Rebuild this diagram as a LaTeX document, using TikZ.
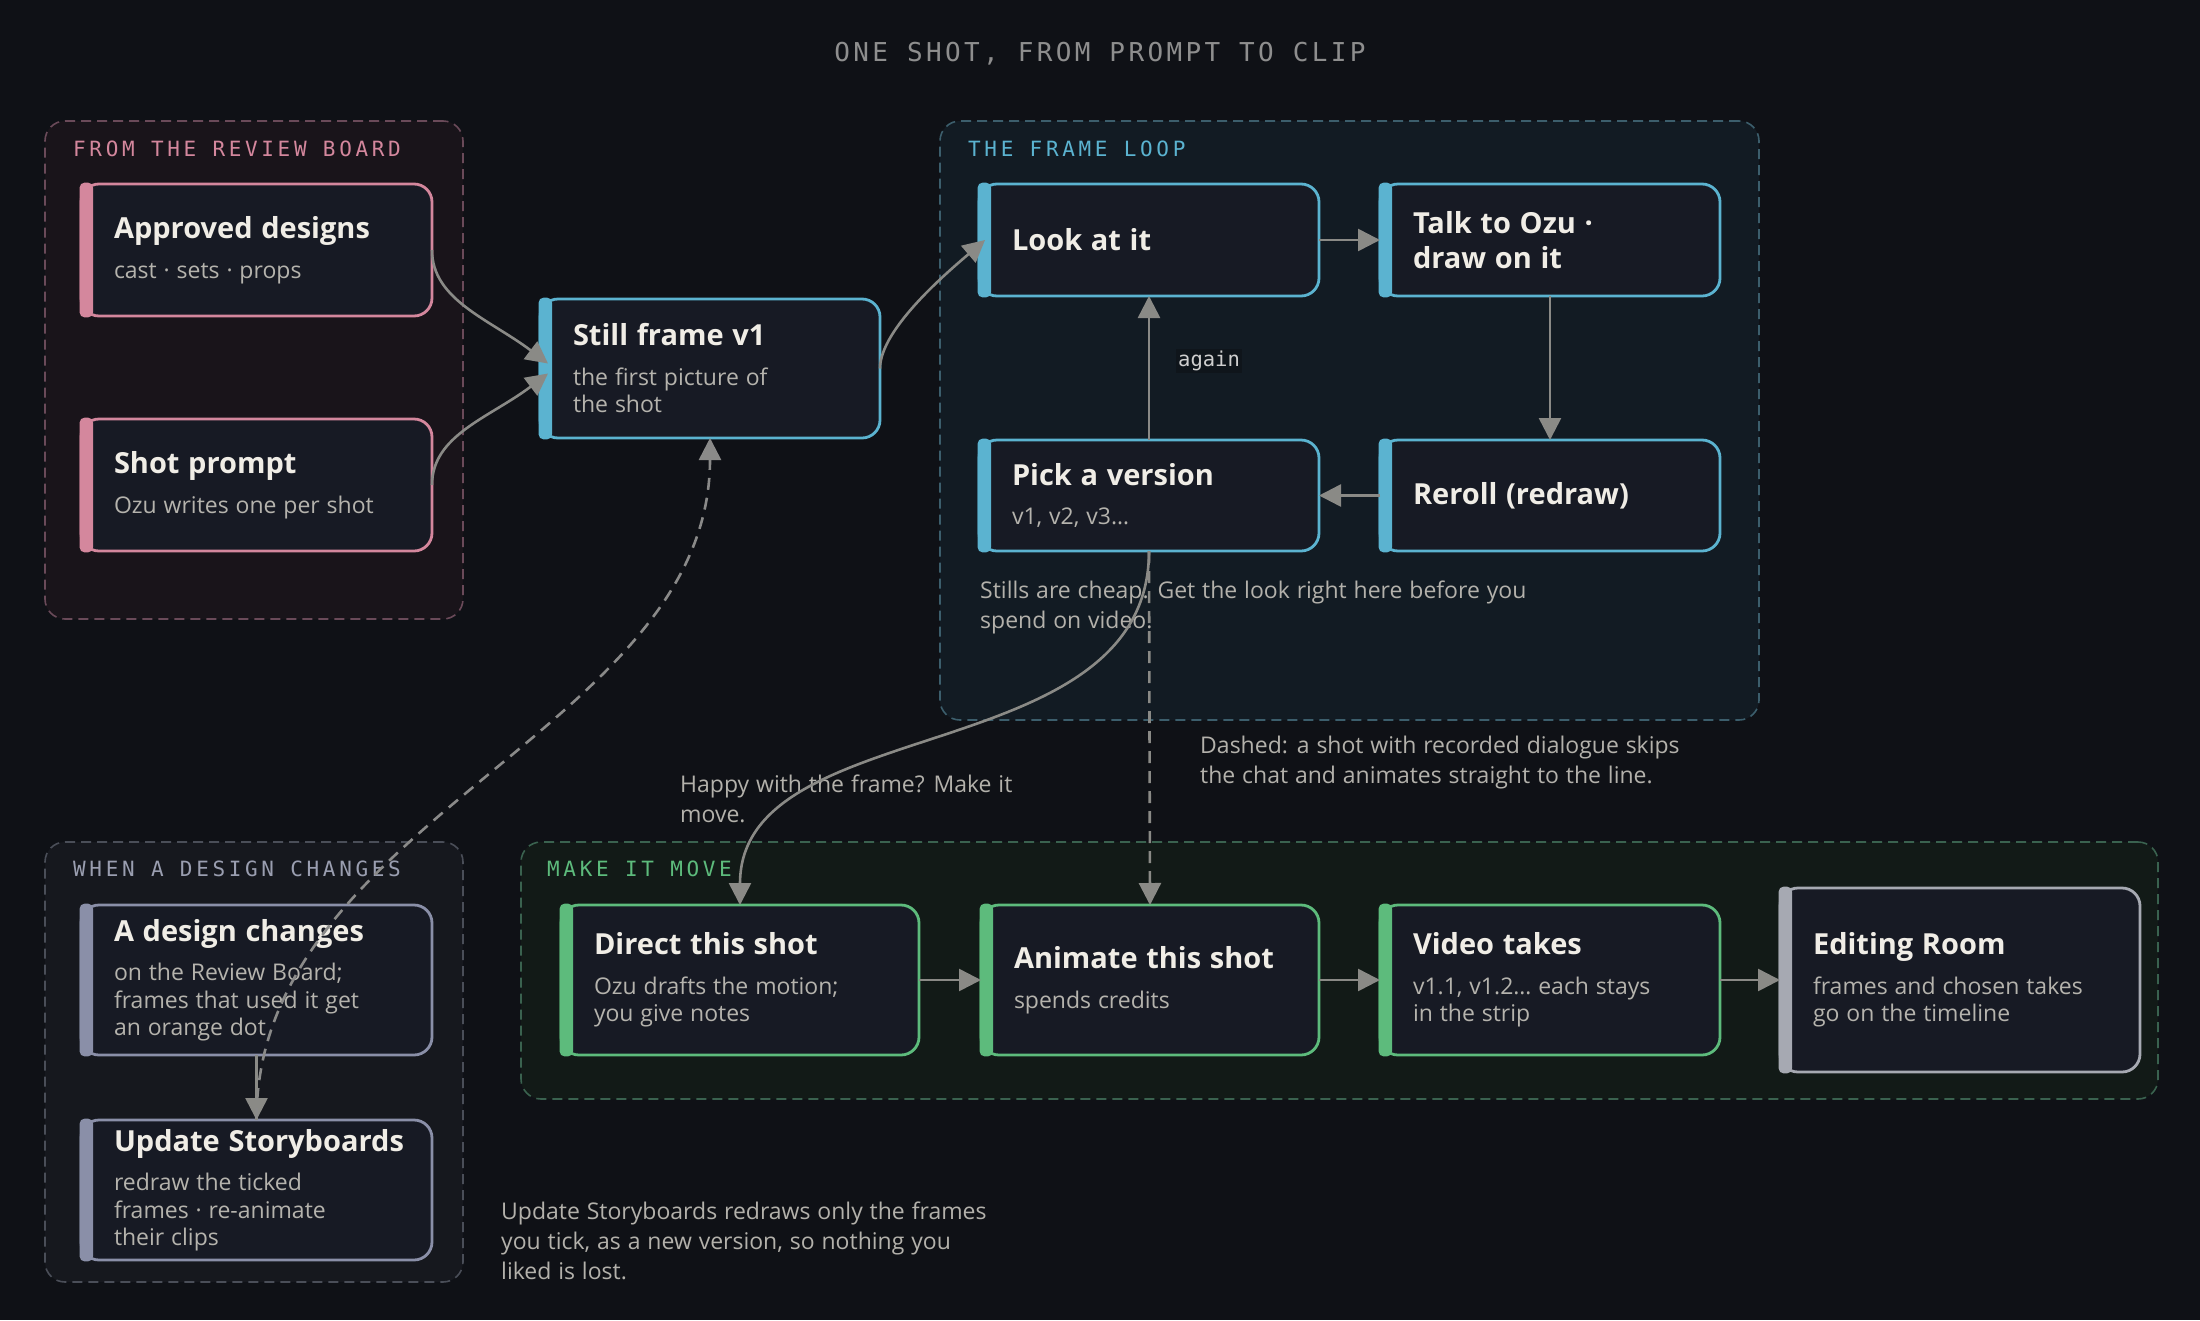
\documentclass[tikz,border=0pt]{standalone}
\usepackage{fontspec}
\setmainfont{Open Sans}[WordSpace=1.15]
\newfontfamily\monoplain{DejaVu Sans Mono}
\newfontfamily\monotitle[LetterSpace=12.9]{DejaVu Sans Mono}
\newfontfamily\monolabel[LetterSpace=17.4]{DejaVu Sans Mono}
\usetikzlibrary{arrows.meta,calc}

\definecolor{bg}{HTML}{0F1116}
\definecolor{cardfill}{HTML}{171A24}
\definecolor{titlec}{HTML}{F0EDE6}
\definecolor{subc}{HTML}{B5B3AD}
\definecolor{notec}{HTML}{B3B1AB}
\definecolor{arrowc}{HTML}{8A8A86}
\definecolor{pinkc}{HTML}{D4879D}
\definecolor{bluec}{HTML}{5BB3D0}
\definecolor{greenc}{HTML}{5DBB7C}
\definecolor{slatec}{HTML}{8A8FA8}
\definecolor{lightc}{HTML}{A6A9B2}
\definecolor{gafill}{HTML}{19141A}
\definecolor{gaedge}{HTML}{6A4A59}
\definecolor{gbfill}{HTML}{121B23}
\definecolor{gbedge}{HTML}{3C5E6C}
\definecolor{gcfill}{HTML}{16181E}
\definecolor{gcedge}{HTML}{4A4E58}
\definecolor{gdfill}{HTML}{121A17}
\definecolor{gdedge}{HTML}{3A624F}
\definecolor{slatelab}{HTML}{9A9EB0}
\definecolor{titlegray}{HTML}{8E8E8E}
\definecolor{againc}{HTML}{CFCFCF}
\definecolor{againbg}{HTML}{0F151B}

\newcommand\ctitle[1]{{\fontsize{29}{35}\selectfont\spaceskip=0pt\xspaceskip=0pt\bfseries\color{titlec}#1\par}}
\newcommand\csub[1]{\vspace{12pt}{\fontsize{23}{27.5}\selectfont\spaceskip=0pt\xspaceskip=0pt\color{subc}#1\par}}
\newcommand\card[7]{%
  \node[card=#6, minimum width=#4, minimum height=#5] (#1) at (#2,#3) {};
  \fill[#6, rounded corners=5pt] ([xshift=-1.4pt, yshift=1.4pt]#1.north west) rectangle ([xshift=12pt, yshift=-1.4pt]#1.south west);
  \node[cardtext] (#1t) at ([xshift=33pt]#1.west) {#7};
}

\tikzset{
  card/.style={draw=#1, fill=cardfill, line width=2.8pt, rounded corners=18pt, inner sep=0pt, outer sep=0pt},
  cardtext/.style={anchor=west, inner sep=0pt, outer sep=0pt, text width=330pt, align=left},
  group/.style={dash pattern=on 10pt off 6pt, line width=1.6pt, rounded corners=20pt, inner sep=0pt, outer sep=0pt},
  grouplabel/.style={anchor=base west, inner sep=0pt, font=\monolabel\fontsize{21}{25}\selectfont},
  arr/.style={draw=arrowc, line width=2.6pt, -{Triangle[length=22pt,width=22pt]}},
  dasharr/.style={arr, dash pattern=on 12pt off 8pt},
  note/.style={anchor=west, inner sep=0pt, align=left, text=notec, font=\fontsize{23}{30}\selectfont},
}

\begin{document}
\begin{tikzpicture}[x=1pt, y=-1pt]
\fill[bg] (0,0) rectangle (2200,1320);
\useasboundingbox (0,0) rectangle (2200,1320);

% title
\node[anchor=base, inner sep=0pt, text=titlegray, font=\monotitle\fontsize{26}{30}\selectfont] (title) at (1100,61) {ONE SHOT, FROM PROMPT TO CLIP};

% groups
\node[group, draw=gaedge, fill=gafill, minimum width=418, minimum height=498] (greview) at (254,370) {};
\node[group, draw=gbedge, fill=gbfill, minimum width=819, minimum height=599] (gloop) at (1349.5,420.5) {};
\node[group, draw=gcedge, fill=gcfill, minimum width=418, minimum height=440] (gwhen) at (254,1062) {};
\node[group, draw=gdedge, fill=gdfill, minimum width=1637, minimum height=257] (gmove) at (1339.5,970.5) {};

\node[grouplabel, text=pinkc] (lreview) at (73,156) {FROM THE REVIEW BOARD};
\node[grouplabel, text=bluec] (lloop) at (968,156) {THE FRAME LOOP};
\node[grouplabel, text=slatelab] (lwhen) at (73,876) {WHEN A DESIGN CHANGES};
\node[grouplabel, text=greenc] (lmove) at (547,876) {MAKE IT MOVE};

% cards
\card{appr}{256.5}{250}{351}{132}{pinkc}{\ctitle{Approved designs}\csub{cast · sets · props}}
\card{prompt}{256.5}{485}{351}{132}{pinkc}{\ctitle{Shot prompt}\csub{Ozu writes one per shot}}
\card{still}{710}{368.5}{340}{139}{bluec}{\ctitle{Still frame v1}\csub{the first picture of\\the shot}}
\card{look}{1149}{240}{340}{112}{bluec}{\ctitle{Look at it}}
\card{talk}{1550}{240}{340}{112}{bluec}{\ctitle{Talk to Ozu ·\\draw on it}}
\card{pick}{1149}{495.5}{340}{111}{bluec}{\ctitle{Pick a version}\csub{v1, v2, v3…}}
\card{reroll}{1550}{495.5}{340}{111}{bluec}{\ctitle{Reroll (redraw)}}
\card{design}{256.5}{980}{351}{150}{slatec}{\ctitle{A design changes}\csub{on the Review Board;\\frames that used it get\\an orange dot}}
\card{update}{256.5}{1190}{351}{140}{slatec}{\ctitle{Update Storyboards}\csub{redraw the ticked\\frames · re-animate\\their clips}}
\card{direct}{740}{980}{358}{150}{greenc}{\ctitle{Direct this shot}\csub{Ozu drafts the motion;\\you give notes}}
\card{animate}{1150}{980}{338}{150}{greenc}{\ctitle{Animate this shot}\csub{spends credits}}
\card{video}{1550}{980}{340}{150}{greenc}{\ctitle{Video takes}\csub{v1.1, v1.2… each stays\\in the strip}}
\card{edit}{1960}{980}{360}{184}{lightc}{\ctitle{Editing Room}\csub{frames and chosen takes\\go on the timeline}}

% notes
\node[note] (nstills) at (980,607) {Stills are cheap. Get the look right here before you\\spend on video.};
\node[note] (ndashed) at (1200,763) {Dashed: a shot with recorded dialogue skips\\the chat and animates straight to the line.};
\node[note] (nhappy) at (680,799) {Happy with the frame? Make it\\move.};
\node[note] (nupdate) at (501,1241) {Update Storyboards redraws only the frames\\you tick, as a new version, so nothing you\\liked is lost.};

% connectors
\draw[arr] (appr.east) .. controls +(0,50) and +(-58,-44) .. ($(still.west)+(8,-5)$);
\draw[arr] (prompt.east) .. controls +(0,-50) and +(-58,44) .. ($(still.west)+(8,5)$);
\draw[arr] (still.east) .. controls +(0,-40) and +(-35,30) .. ($(look.west)+(6,0)$);
\draw[arr] (look.east) -- (talk.west);
\draw[arr] (talk.south) -- (reroll.north);
\draw[arr] (reroll.west) -- (pick.east);
\draw[arr] (pick.north) -- (look.south);
\node[fill=againbg, inner sep=2pt, text=againc, font=\monoplain\fontsize{20.5}{24}\selectfont] (again) at (1209,361) {again};
\draw[arr] (pick.south) .. controls +(0,220) and +(0,-195) .. (direct.north);
\draw[dasharr] (pick.south) -- (animate.north);
\draw[arr] (direct.east) -- (animate.west);
\draw[arr] (animate.east) -- (video.west);
\draw[arr] (video.east) -- (edit.west);
\draw[arr] (design.south) -- (update.north);
\draw[dasharr, draw=arrowc!90!slatec] (update.north) .. controls +(0,-300) and +(0,292) .. (still.south);
\end{tikzpicture}
\end{document}
